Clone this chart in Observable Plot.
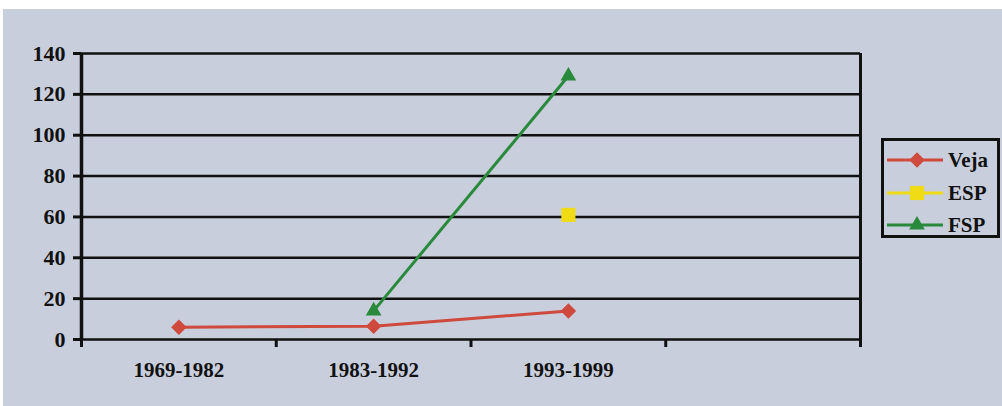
<!DOCTYPE html>
<html>
<head>
<meta charset="utf-8">
<script src="https://cdn.jsdelivr.net/npm/d3@7"></script>
<script src="https://cdn.jsdelivr.net/npm/@observablehq/plot@0.6"></script>
<style>
  html, body { margin: 0; padding: 0; background: #ffffff; width: 1002px; height: 406px; overflow: hidden; }
  #bg { position: absolute; left: 3px; top: 9px; width: 999px; height: 397px; background: #c8cedc; }
  #chart { position: absolute; left: 0; top: 0; }
  #legend { position: absolute; left: 881px; top: 138px; width: 113px; height: 94px; border: 3px solid #111; font-family: "Liberation Serif", serif; font-weight: bold; font-size: 21px; color: #111; }
  .item { position: absolute; left: 3px; height: 20px; display: flex; align-items: center; }
  .item svg { display: block; }
  .item span { margin-left: 3px; }
</style>
</head>
<body>
<div id="bg"></div>
<div id="chart"></div>
<div id="legend"></div>
<script>
const categories = ["1969-1982", "1983-1992", "1993-1999"];
const seriesNames = ["Veja", "ESP", "FSP"];
const veja = [6, 6.5, 14];
const esp = [null, null, 61];
const fsp = [null, 14, 129];
const yTicks = [0, 20, 40, 60, 80, 100, 120, 140];

const colors = { Veja: "#cf4a3c", ESP: "#f0dc14", FSP: "#2a8a3c" };
const symbols = { Veja: "diamond2", ESP: "square2", FSP: "triangle2" };
const radii = { Veja: 7, ESP: 9, FSP: 7.5 };

const valuesBySeries = { Veja: veja, ESP: esp, FSP: fsp };
const rows = [];
for (const s of seriesNames) {
  valuesBySeries[s].forEach((v, i) => {
    if (v != null) rows.push({ series: s, x: i + 0.5, y: v, cat: categories[i] });
  });
}

const font = "'Liberation Serif', 'Times New Roman', serif";

const marks = [
  Plot.ruleY(yTicks, { stroke: "#111", strokeWidth: 2.5 }),
  Plot.ruleX([4], { y1: 0, y2: 140, stroke: "#111", strokeWidth: 3 }),
  Plot.axisY({ ticks: yTicks, tickSize: 8, tickPadding: 8, strokeWidth: 3, stroke: "#111", fill: "#111", fontSize: 22, fontWeight: "bold", fontFamily: font, label: null }),
  Plot.axisX({ ticks: [0, 1, 2, 3, 4], tickSize: 8, tickFormat: () => "", strokeWidth: 3, stroke: "#111", label: null }),
  Plot.axisX({ ticks: [0.5, 1.5, 2.5], tickSize: 0, tickPadding: 23, tickFormat: d => categories[Math.round(d - 0.5)], fill: "#111", fontSize: 21, fontWeight: "bold", fontFamily: font, label: null }),
  Plot.ruleX([0], { y1: 0, y2: 140, stroke: "#111", strokeWidth: 3.5 })
];
for (const s of seriesNames) {
  const data = rows.filter(r => r.series === s);
  if (data.length > 1) marks.push(Plot.line(data, { x: "x", y: "y", stroke: colors[s], strokeWidth: 3 }));
  marks.push(Plot.dot(data, { x: "x", y: "y", symbol: () => symbols[s], r: radii[s], fill: colors[s], stroke: "none" }));
}

const chart = Plot.plot({
  width: 1002,
  height: 406,
  marginLeft: 81,
  marginRight: 142,
  marginTop: 53,
  marginBottom: 67,
  style: { background: "transparent", fontFamily: font, color: "#111", overflow: "visible" },
  x: { type: "linear", domain: [0, 4] },
  y: { domain: [0, 140] },
  marks
});
document.getElementById("chart").appendChild(chart);

// legend
const legend = document.getElementById("legend");
const legendTops = [9, 42, 74];
seriesNames.forEach((s, i) => {
  const item = document.createElement("div");
  item.className = "item";
  item.style.top = legendTops[i] + "px";
  const sw = d3.create("svg").attr("width", 58).attr("height", 20);
  sw.append("line").attr("x1", 0).attr("x2", 56).attr("y1", 10).attr("y2", 10).attr("stroke", colors[s]).attr("stroke-width", 3);
  const symType = { Veja: d3.symbolDiamond2, ESP: d3.symbolSquare2, FSP: d3.symbolTriangle2 }[s];
  sw.append("path").attr("transform", "translate(30,10)").attr("d", d3.symbol(symType, Math.PI * radii[s] * radii[s])()).attr("fill", colors[s]);
  item.appendChild(sw.node());
  const label = document.createElement("span");
  label.textContent = s;
  item.appendChild(label);
  legend.appendChild(item);
});
</script>
</body>
</html>
